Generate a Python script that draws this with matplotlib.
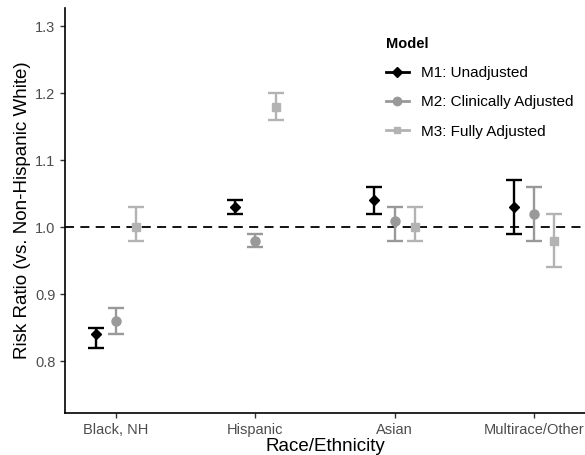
import matplotlib
matplotlib.use("Agg")
import matplotlib.pyplot as plt
from matplotlib.lines import Line2D
import numpy as np

plt.rcParams['font.family'] = ['Liberation Sans', 'DejaVu Sans']

categories = ["Black, NH", "Hispanic", "Asian", "Multirace/Other"]
models = ["M1: Unadjusted", "M2: Clinically Adjusted", "M3: Fully Adjusted"]
rr = {
    "M1: Unadjusted": [0.84, 1.03, 1.04, 1.03],
    "M2: Clinically Adjusted": [0.86, 0.98, 1.01, 1.02],
    "M3: Fully Adjusted": [1.00, 1.18, 1.00, 0.98],
}
lower = {
    "M1: Unadjusted": [0.82, 1.02, 1.02, 0.99],
    "M2: Clinically Adjusted": [0.84, 0.97, 0.98, 0.98],
    "M3: Fully Adjusted": [0.98, 1.16, 0.98, 0.94],
}
upper = {
    "M1: Unadjusted": [0.85, 1.04, 1.06, 1.07],
    "M2: Clinically Adjusted": [0.88, 0.99, 1.03, 1.06],
    "M3: Fully Adjusted": [1.03, 1.20, 1.03, 1.02],
}
colors = {"M1: Unadjusted": "#000000", "M2: Clinically Adjusted": "#999999", "M3: Fully Adjusted": "#b3b3b3"}
markers = {"M1: Unadjusted": "D", "M2: Clinically Adjusted": "o", "M3: Fully Adjusted": "s"}
msizes = {"M1: Unadjusted": 5.5, "M2: Clinically Adjusted": 6.5, "M3: Fully Adjusted": 5.5}
offsets = {"M1: Unadjusted": -0.147, "M2: Clinically Adjusted": 0.0, "M3: Fully Adjusted": 0.147}

fig = plt.figure(figsize=(5.85, 4.55), dpi=100)
ax = fig.add_axes([65/585, 42/455, 1 - 65/585, (413-8)/455])

x = np.arange(1, len(categories) + 1)
ax.axhline(1.0, color="black", lw=1.3, ls=(0, (5, 3.5)), zorder=1)
for m in models:
    xs = x + offsets[m]
    y = np.array(rr[m])
    lo = y - np.array(lower[m])
    hi = np.array(upper[m]) - y
    ax.errorbar(xs, y, yerr=[lo, hi], fmt=markers[m], color=colors[m], ecolor=colors[m],
                elinewidth=1.7, capsize=6, capthick=1.7, markersize=msizes[m], zorder=3)

ax.set_xlim(0.634, 4.366)
ax.set_ylim(0.7225, 1.3275)
ax.set_xticks(x)
ax.set_xticklabels(categories)
ax.set_yticks([0.8, 0.9, 1.0, 1.1, 1.2, 1.3])
ax.set_yticklabels(["0.8", "0.9", "1.0", "1.1", "1.2", "1.3"])
ax.tick_params(axis="both", labelsize=10.5, labelcolor="#4d4d4d", color="#333333", length=3.5, width=1)
for s in ["top", "right"]:
    ax.spines[s].set_visible(False)
for s in ["left", "bottom"]:
    ax.spines[s].set_linewidth(1.2)
ax.set_xlabel("Race/Ethnicity", fontsize=13.5, labelpad=1)
ax.set_ylabel("Risk Ratio (vs. Non-Hispanic White)", fontsize=13.5, labelpad=3)

handles = [Line2D([0], [0], color=colors[m], marker=markers[m], markersize=msizes[m] - 0.5, lw=2) for m in models]
leg = ax.legend(handles, models, title="Model", loc="upper left", bbox_to_anchor=(372/585, 1 - 23/455),
                bbox_transform=fig.transFigure, frameon=False, fontsize=11, handlelength=1.5,
                handletextpad=0.8, labelspacing=1.0, alignment="left")
leg.get_title().set_fontweight("bold")
leg.get_title().set_fontsize(10.5)

fig.savefig("out.png", dpi=100)
